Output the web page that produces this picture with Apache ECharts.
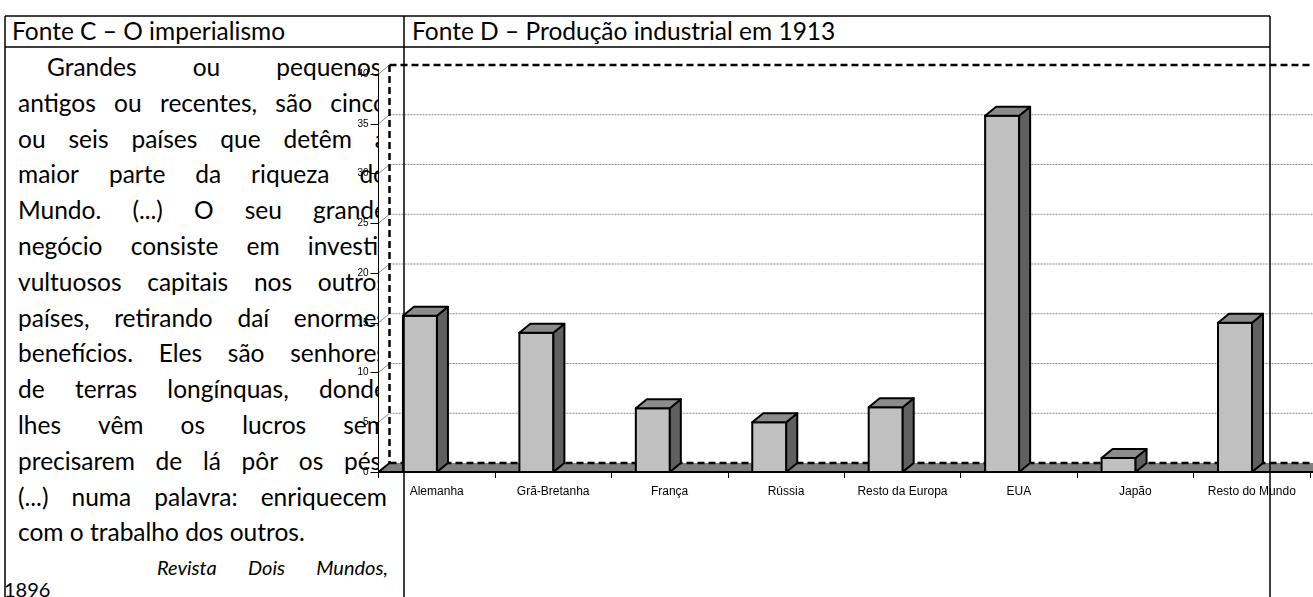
<!DOCTYPE html>
<html>
<head>
<meta charset="utf-8">
<script src="https://cdn.jsdelivr.net/npm/echarts/dist/echarts.min.js"></script>
<style>
body { margin: 0; background: #fff; }
#page { position: relative; width: 1313px; height: 597px; overflow: hidden; font-family: Lato, sans-serif; color: #000; }
.ln { position: absolute; height: 30px; line-height: 30px; font-size: 24.5px; white-space: nowrap; display: flex; justify-content: space-between; }
.ln.left { display: block; }
.ln.small { font-size: 20px; }
#chart { position: absolute; left: 0; top: 0; width: 1313px; height: 597px; }
</style>
</head>
<body>
<div id="page"><div id="txt"></div><div id="chart"></div></div>
<script>
// chart data
var categories = ['Alemanha', 'Grã-Bretanha', 'França', 'Rússia', 'Resto da Europa', 'EUA', 'Japão', 'Resto do Mundo'];
var production = [15.7, 14.0, 6.4, 5.0, 6.5, 35.8, 1.4, 15.0];
var gridValues = [5, 10, 15, 20, 25, 30, 35];

// texts of the table
var headerLeft = 'Fonte C – O imperialismo';
var headerRight = 'Fonte D – Produção industrial em 1913';
var bodyLines = [
  'Grandes ou pequenos,',
  'antigos ou recentes, são cinco',
  'ou seis países que detêm a',
  'maior parte da riqueza do',
  'Mundo. (...) O seu grande',
  'negócio consiste em investir',
  'vultuosos capitais nos outros',
  'países, retirando daí enormes',
  'benefícios. Eles são senhores',
  'de terras longínquas, donde',
  'lhes vêm os lucros sem',
  'precisarem de lá pôr os pés.',
  '(...) numa palavra: enriquecem',
  'com o trabalho dos outros.'
];
var sourceLine = 'Revista Dois Mundos,';
var sourceYear = '1896';

// 3d depth offset of the old excel chart
var DX = 11, DY = -9;

function addLine(text, left, width, cy, cls, italic) {
  var d = document.createElement('div');
  d.className = 'ln ' + (cls || '');
  d.style.left = left + 'px';
  d.style.width = width + 'px';
  d.style.top = (cy - 15) + 'px';
  if (italic) d.style.fontStyle = 'italic';
  if (cls && cls.indexOf('left') >= 0) {
    d.textContent = text;
  } else {
    text.split(' ').forEach(function (w) {
      var s = document.createElement('span');
      s.textContent = w;
      d.appendChild(s);
    });
  }
  document.getElementById('txt').appendChild(d);
}

addLine(headerLeft, 12, 380, 31, 'left');
addLine(headerRight, 412, 800, 31, 'left');
for (var i = 0; i < bodyLines.length; i++) {
  var cy = 67 + i * 35.8;
  if (i == 0) addLine(bodyLines[i], 47, 340, cy);
  else if (i == bodyLines.length - 1) addLine(bodyLines[i], 18, 370, cy, 'left');
  else addLine(bodyLines[i], 18, 369, cy);
}
addLine(sourceLine, 157, 231, 567, 'small', true);
addLine(sourceYear, 4, 100, 589, 'left small');

function renderBack(params, api) {
  var cs = params.coordSys;
  var y0 = api.coord([0, 0])[1];
  var y40 = api.coord([0, 40])[1];
  var xl = cs.x, xr = 1320;
  var kids = [];
  kids.push({ type: 'rect', shape: { x: xl + 0.5, y: 60, width: 1313 - xl, height: y0 - 60 + 0.5 }, style: { fill: '#fff' } });
  gridValues.forEach(function (v) {
    var y = api.coord([0, v])[1];
    kids.push({ type: 'line', shape: { x1: xl, y1: y, x2: xl + DX, y2: y + DY }, style: { stroke: '#8a8a8a', lineWidth: 1 } });
    kids.push({ type: 'line', shape: { x1: xl + DX, y1: y + DY, x2: xr, y2: y + DY }, style: { stroke: '#8a8a8a', lineWidth: 1, lineDash: [2, 1] } });
  });
  kids.push({ type: 'line', shape: { x1: xl, y1: y40, x2: xl + DX, y2: y40 + DY }, style: { stroke: '#8a8a8a', lineWidth: 1 } });
  // dashed plot frame
  kids.push({ type: 'line', shape: { x1: xl + DX, y1: y40 + DY, x2: xr, y2: y40 + DY }, style: { stroke: '#000', lineWidth: 2.5, lineDash: [7, 4] } });
  kids.push({ type: 'line', shape: { x1: xl + DX, y1: y40 + DY, x2: xl + DX, y2: y0 + DY }, style: { stroke: '#000', lineWidth: 2.5, lineDash: [7, 4] } });
  // floor
  kids.push({ type: 'polygon', shape: { points: [[xl, y0], [xr, y0], [xr + DX, y0 + DY], [xl + DX, y0 + DY]] }, style: { fill: '#808080' } });
  kids.push({ type: 'line', shape: { x1: xl + DX, y1: y0 + DY, x2: xr, y2: y0 + DY }, style: { stroke: '#000', lineWidth: 2.5, lineDash: [7, 4] } });
  kids.push({ type: 'line', shape: { x1: xl, y1: y0, x2: xr, y2: y0 }, style: { stroke: '#000', lineWidth: 2 } });
  kids.push({ type: 'line', shape: { x1: xl, y1: y0, x2: xl + DX, y2: y0 + DY }, style: { stroke: '#000', lineWidth: 2 } });
  return { type: 'group', children: kids };
}

function renderBar(params, api) {
  var top = api.coord([api.value(0), api.value(1)]);
  var base = api.coord([api.value(0), 0]);
  var bw = api.size([1, 0])[0];
  var x0 = top[0] - bw / 2 + bw * 0.21;
  var x1 = x0 + bw * 0.292;
  var yt = top[1], yb = base[1];
  var st = { stroke: '#000', lineWidth: 2, lineJoin: 'round' };
  return {
    type: 'group',
    children: [
      { type: 'polygon', shape: { points: [[x0, yt], [x1, yt], [x1, yb], [x0, yb]] }, style: Object.assign({ fill: '#c0c0c0' }, st) },
      { type: 'polygon', shape: { points: [[x1, yt], [x1 + DX, yt + DY], [x1 + DX, yb + DY], [x1, yb]] }, style: Object.assign({ fill: '#606060' }, st) },
      { type: 'polygon', shape: { points: [[x0, yt], [x0 + DX, yt + DY], [x1 + DX, yt + DY], [x1, yt]] }, style: Object.assign({ fill: '#8c8c8c' }, st) }
    ]
  };
}

var myChart = echarts.init(document.getElementById('chart'), null, { renderer: 'canvas' });
var borderStyle = { stroke: '#000', lineWidth: 1.5 };
myChart.setOption({
  animation: false,
  backgroundColor: 'transparent',
  grid: { left: 378.5, right: 3, top: 74, bottom: 125, containLabel: false },
  xAxis: {
    type: 'category',
    data: categories,
    axisLine: { show: false },
    axisTick: { show: true, length: 6, lineStyle: { color: '#000', width: 1 } },
    axisLabel: { interval: 0, color: '#000', fontSize: 12, fontFamily: 'Arial, Liberation Sans', margin: 14 },
    z: 5
  },
  yAxis: {
    type: 'value',
    min: 0,
    max: 40,
    interval: 5,
    axisLine: { show: true, lineStyle: { color: '#000', width: 1 } },
    axisTick: { show: true, length: 8, lineStyle: { color: '#000', width: 1 } },
    axisLabel: { color: '#000', fontSize: 10, fontFamily: 'Arial, Liberation Sans', margin: 10 },
    splitLine: { show: false },
    z: 5
  },
  series: [
    { type: 'custom', z: 2, data: [[0, 0]], renderItem: renderBack, silent: true },
    { type: 'custom', z: 3, data: categories.map(function (c, i) { return [i, production[i]]; }), encode: { x: 0, y: 1 }, renderItem: renderBar }
  ],
  graphic: [
    { type: 'line', z: 100, shape: { x1: 5, y1: 16, x2: 1270, y2: 16 }, style: borderStyle },
    { type: 'line', z: 100, shape: { x1: 5, y1: 47, x2: 1270, y2: 47 }, style: borderStyle },
    { type: 'line', z: 100, shape: { x1: 5, y1: 16, x2: 5, y2: 597 }, style: borderStyle },
    { type: 'line', z: 100, shape: { x1: 404, y1: 16, x2: 404, y2: 597 }, style: borderStyle },
    { type: 'line', z: 100, shape: { x1: 1270, y1: 16, x2: 1270, y2: 597 }, style: borderStyle }
  ]
});
</script>
</body>
</html>
